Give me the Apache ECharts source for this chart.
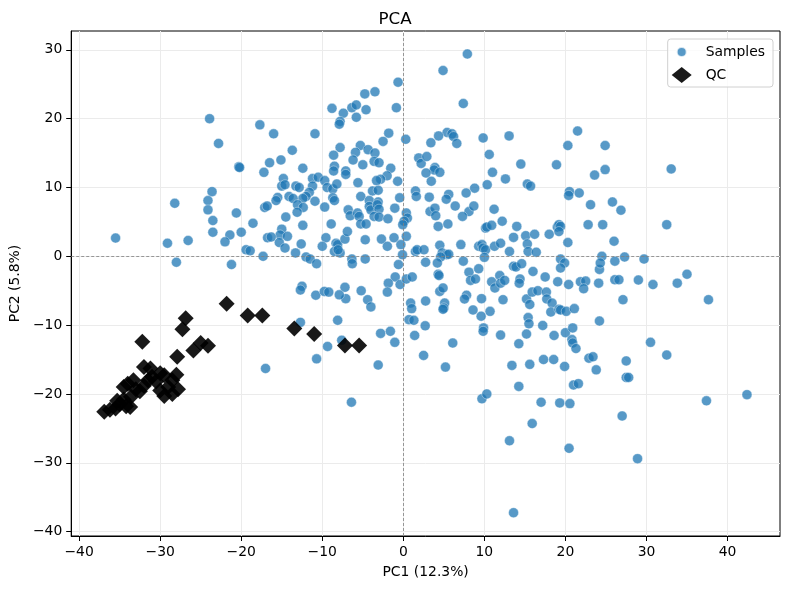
<!DOCTYPE html>
<html>
<head>
<meta charset="utf-8">
<script src="https://cdn.jsdelivr.net/npm/echarts@6/dist/echarts.min.js"></script>
<style>
html,body{margin:0;padding:0;background:#fff;}
#chart{width:790px;height:590px;}
</style>
</head>
<body>
<div id="chart"></div>
<script>
// ---- data ----
const xTicks = [-40, -30, -20, -10, 0, 10, 20, 30, 40];
const yTicks = [-40, -30, -20, -10, 0, 10, 20, 30];

const samplePoints = [
[-23.9,20.0],[-22.8,16.4],[-20.3,13.0],[-20.2,12.9],[-23.6,9.4],[-24.1,8.1],[-28.2,7.7],
[-0.65,25.3],[-3.5,23.9],[-4.75,23.6],[-8.8,21.5],[-6.35,21.6],[-5.8,22.0],[-7.4,20.8],[-4.6,21.3],[-5.8,20.2],[-0.86,21.6],[-7.8,19.6],[-7.9,19.2],[-17.7,19.1],[-16.0,17.8],[-10.9,17.8],[-1.8,17.9],[-2.5,16.7],[0.3,17.0],[-7.8,15.8],[-5.3,16.1],[-5.9,15.1],[-4.35,15.5],[-3.5,15.0],[-13.7,15.4],[-8.6,14.7],[-16.5,13.6],[-15.1,14.0],[-17.2,12.2],[-12.4,12.8],[-6.2,14.0],[-5.0,13.3],[-3.6,13.8],[-3.0,13.6],[-8.5,13.1],[-8.6,12.4],[-7.1,12.4],[-7.1,11.9],[-1.55,12.8],[-2.0,11.7],[-2.8,11.2],[-3.3,11.0],[-5.6,10.7],[-0.7,10.9],[-14.8,11.3],[-15.0,10.2],[-14.6,10.4],[-11.2,11.3],[-10.5,11.5],[-9.7,11.0],[-13.25,10.2],[-12.85,10.0],[-11.2,10.2],[-9.4,10.0],[-8.7,9.8],[-8.2,10.5],[-3.8,9.5],[-3.1,9.6],[1.5,9.5],[1.6,8.7],[1.9,14.3],[2.2,13.5],[-11.6,9.3],[-12.0,8.7],[-12.4,8.4],[-14.1,8.7],[-13.6,8.4],[-15.5,8.55],[-15.7,8.1],[-5.25,8.7],[-0.45,8.5],[-4.2,8.1],[-3.1,7.9],[-8.7,8.5],[-8.5,8.1],[-10.9,8.0],
[7.9,29.4],[4.9,27.0],[7.4,22.2],[21.5,18.2],[20.3,16.1],[24.9,16.1],[5.4,18.0],[6.0,17.8],[6.2,17.4],[4.35,17.5],[3.4,16.5],[6.6,16.4],[9.85,17.2],[13.05,17.5],[10.6,14.8],[2.9,14.5],[3.9,12.9],[3.8,12.55],[4.5,12.2],[2.8,12.1],[3.45,10.9],[11.0,12.2],[14.5,13.4],[12.6,11.25],[18.9,13.3],[10.35,10.4],[15.3,10.5],[15.7,10.2],[8.8,9.9],[7.75,9.2],[5.6,9.0],[5.3,8.3],[3.2,8.6],[23.6,11.8],[24.9,12.6],[20.5,9.4],[20.4,8.85],[21.7,9.2],
[33.05,12.7],[25.8,7.9],
[-35.5,2.65],[-24.1,6.75],[-20.6,6.3],[-23.5,5.2],[-23.5,3.5],[-29.1,1.9],[-26.55,2.3],[-21.4,3.1],[-22.0,2.1],[-20.0,3.5],[-19.4,0.95],[-28.0,-0.87],[-21.2,-1.2],
[-17.1,7.1],[-16.8,7.3],[-13.05,7.5],[-12.35,7.1],[-9.7,7.15],[-6.8,6.75],[-6.55,5.9],[-5.65,6.3],[-5.45,5.8],[-5.25,4.7],[-4.6,4.7],[-4.2,7.25],[-4.0,6.75],[-3.2,7.5],[-3.0,6.85],[-3.6,5.8],[-3.0,5.7],[-1.9,5.45],[-1.05,7.0],[0.37,6.3],[0.5,5.55],[0.1,5.1],[-0.07,4.6],[-18.55,4.8],[-14.5,5.7],[-13.1,6.4],[-12.4,4.5],[-8.9,4.7],[-15.0,3.95],[-15.2,3.1],[-15.3,2.0],[-14.3,2.9],[-16.75,2.7],[-16.3,2.8],[-18.9,0.8],[-17.3,0.0],[-14.6,1.2],[-13.3,0.5],[-12.6,1.8],[-12.0,-0.1],[-11.5,-0.4],[-10.7,-1.07],[-9.55,2.7],[-10.0,1.45],[-8.3,1.9],[-8.1,1.7],[-8.5,0.7],[-7.8,0.5],[-8.05,0.95],[-7.2,2.5],[-6.9,3.6],[-6.35,-0.4],[-6.3,-1.07],[-4.7,2.4],[-4.7,-0.4],[-2.7,2.5],[-1.97,1.45],[-1.15,2.7],[0.37,2.9],[-0.3,1.7],[-0.1,0.23],[-0.6,-1.2],[1.5,0.7],[1.7,0.95],[-1.0,-3.0],[-1.85,-3.9],[-0.4,-4.1],[0.37,-3.3],[1.1,-3.0],[-1.97,-5.2],[-5.2,-5.0],[-4.4,-6.3],[-4.0,-7.35],[-7.2,-4.5],[-7.1,-6.15],[-7.9,-5.6],[-12.5,-4.35],[-12.7,-4.9],[-10.8,-5.65],[-9.75,-5.1],[-9.2,-5.2],[0.9,-6.8],[1.03,-7.6],[0.7,-9.2],[1.3,-9.3],[-12.7,-9.6],[-8.1,-9.3],[-7.6,-12.2],[-9.35,-13.1],[-10.7,-14.9],[-2.8,-11.2],[-1.6,-10.9],[-1.05,-12.5],[1.4,-11.5],[-3.1,-15.8],[-17.0,-16.3],
[3.3,6.5],[3.9,7.0],[4.0,5.9],[6.4,7.3],[8.1,6.5],[8.7,7.3],[7.3,5.8],[11.2,6.85],[4.3,4.35],[5.5,4.7],[10.15,4.1],[10.3,4.25],[10.9,4.5],[12.2,5.1],[14.0,4.35],[13.6,2.75],[15.1,3.0],[16.2,3.2],[15.3,1.8],[15.4,0.7],[16.4,0.6],[18.0,3.2],[19.0,4.25],[19.2,4.6],[19.4,4.35],[19.2,3.6],[20.3,2.0],[22.8,4.6],[24.6,4.6],[2.55,0.95],[2.75,-0.87],[4.5,1.6],[4.8,0.5],[5.35,0.23],[5.6,0.3],[4.6,-0.1],[4.2,-0.97],[7.1,1.7],[7.4,-0.7],[9.3,1.45],[9.7,1.7],[9.85,1.2],[10.15,0.95],[10.0,-0.15],[11.25,1.45],[12.0,1.9],[13.1,0.7],[4.3,-2.6],[4.4,-2.8],[8.1,-2.3],[9.3,-1.8],[8.3,-3.5],[8.9,-3.3],[10.9,-3.7],[11.3,-4.6],[11.9,-2.8],[12.0,-3.9],[12.5,-3.5],[13.6,-1.45],[13.9,-1.55],[14.6,-1.07],[14.4,-3.3],[14.3,-3.9],[16.0,-2.2],[17.5,-3.0],[19.05,-3.7],[20.4,-4.1],[19.4,-0.4],[19.9,-0.97],[19.4,-1.7],[21.85,-3.7],[22.5,-3.6],[22.25,-4.7],[24.1,-3.9],[24.2,-1.9],[24.5,0.0],[24.3,-0.97],[4.5,-5.1],[4.9,-4.6],[2.75,-6.5],[5.1,-6.8],[5.0,-7.5],[4.9,-7.7],[7.8,-5.65],[7.55,-6.2],[9.65,-6.15],[8.6,-7.8],[9.6,-8.7],[10.7,-8.0],[12.3,-6.3],[15.2,-6.2],[15.6,-7.0],[15.9,-5.2],[16.6,-5.0],[17.65,-5.2],[17.7,-6.2],[18.35,-6.8],[18.2,-8.1],[19.2,-7.7],[19.4,-7.8],[20.1,-8.0],[21.1,-7.6],[15.4,-8.9],[15.5,-9.8],[17.2,-10.05],[15.2,-11.3],[14.25,-12.7],[12.0,-11.45],[9.9,-10.4],[9.85,-10.9],[6.1,-12.6],[2.7,-10.1],[18.6,-11.5],[20.0,-11.1],[20.9,-10.4],[20.8,-12.1],[20.9,-12.6],[21.3,-13.4],[24.2,-9.4],[2.5,-14.4],[5.2,-16.1],[13.4,-15.85],[15.6,-15.7],[17.3,-15.0],[18.55,-15.0],[19.9,-16.0],[22.9,-14.8],[23.4,-14.6],[23.8,-16.5],[23.1,7.5],
[26.85,6.7],[32.5,4.6],[26.0,2.2],[26.1,-0.7],[27.3,-0.1],[29.7,-0.4],[26.1,-3.4],[26.6,-3.4],[29.0,-3.45],[30.8,-4.1],[33.8,-3.9],[35.0,-2.6],[27.1,-6.3],[37.65,-6.3],[30.5,-12.5],[32.5,-14.35],[27.5,-15.2],
[-6.4,-21.2],
[9.7,-20.7],[10.3,-20.0],[14.25,-18.9],[17.0,-21.2],[19.3,-21.3],[20.55,-21.4],[21.0,-18.7],[21.6,-18.5],[15.9,-24.3],[13.1,-26.8],[20.45,-27.9],[13.6,-37.25],
[27.5,-17.6],[27.8,-17.6],[27.0,-23.2],[28.9,-29.4],[37.4,-21.0],[42.4,-20.1]
];

const qcPoints = [
[-21.8,-6.9],[-26.85,-9.0],[-27.25,-10.6],[-32.2,-12.4],[-25.0,-12.6],[-24.1,-13.0],[-25.9,-13.7],[-27.9,-14.6],[-19.2,-8.6],[-17.4,-8.6],[-13.45,-10.5],[-11.0,-11.3],[-7.2,-12.95],[-5.45,-12.95],[-32.0,-16.1],
[-36.9,-22.6],[-36.2,-22.3],[-35.5,-22.1],[-35.0,-21.5],[-34.5,-20.8],[-34.2,-21.8],[-33.7,-21.9],[-34.5,-19.0],[-34.0,-18.5],[-33.3,-18.0],[-33.0,-19.3],[-32.5,-19.6],[-32.0,-18.8],[-31.5,-18.0],[-31.0,-17.5],[-30.5,-18.2],[-30.0,-17.0],[-29.5,-17.3],[-30.0,-19.5],[-29.5,-20.3],[-29.0,-19.0],[-28.5,-18.0],[-28.0,-17.2],[-27.8,-19.3],[-28.5,-20.0],[-31.2,-16.3],[-33.6,-20.4],[-35.3,-21.0]
];

const minus = v => String(v).replace('-', '\u2212');
const FONT = 'DejaVu Sans';
// legend icon: 10px circle centred in a 16px box (moveTo corners fix the box)
const circleIcon = 'path://M0,0M16,16M3,8A5,5,0,1,1,13,8A5,5,0,1,1,3,8Z';

const chart = echarts.init(document.getElementById('chart'), null, {renderer: 'canvas'});
chart.setOption({
  animation: false,
  backgroundColor: '#fff',
  textStyle: {fontFamily: FONT},
  title: {
    text: 'PCA', left: 'center', top: 6,
    textStyle: {fontFamily: FONT, fontSize: 16.7, fontWeight: 'normal', color: '#000'}
  },
  legend: {
    orient: 'vertical', right: 17, top: 39,
    itemWidth: 20, itemHeight: 16, itemGap: 6,
    padding: [4, 8, 4, 4],
    borderColor: '#d0d0d0', borderWidth: 1, borderRadius: 3,
    backgroundColor: 'rgba(255,255,255,0.8)',
    textStyle: {fontFamily: FONT, fontSize: 13.9, color: '#000', padding: [0, 0, 0, 9]},
    data: [{name: 'Samples', icon: circleIcon}, {name: 'QC', icon: 'diamond'}]
  },
  grid: {left: 70, right: 10, top: 31, bottom: 54, show: true, borderColor: '#000', borderWidth: 1},
  xAxis: {
    type: 'value', min: -40.975, max: 46.475,
    name: 'PC1 (12.3%)', nameLocation: 'middle', nameGap: 29,
    nameTextStyle: {fontFamily: FONT, fontSize: 13.9, color: '#000'},
    axisLine: {onZero: false, lineStyle: {color: '#000', width: 1}},
    axisTick: {customValues: xTicks, length: 5, lineStyle: {color: '#000'}},
    axisLabel: {customValues: xTicks, formatter: minus, margin: 9, fontFamily: FONT, fontSize: 13.9, color: '#000'},
    splitLine: {show: true, lineStyle: {color: '#ebebeb', width: 1}}
  },
  yAxis: {
    type: 'value', min: -40.64, max: 32.74,
    name: 'PC2 (5.8%)', nameLocation: 'middle', nameGap: 46, nameRotate: 90,
    nameTextStyle: {fontFamily: FONT, fontSize: 13.9, color: '#000'},
    axisLine: {onZero: false, lineStyle: {color: '#000', width: 1}},
    axisTick: {customValues: yTicks, length: 5, lineStyle: {color: '#000'}},
    axisLabel: {customValues: yTicks, formatter: minus, margin: 9, fontFamily: FONT, fontSize: 13.9, color: '#000'},
    splitLine: {show: true, lineStyle: {color: '#ebebeb', width: 1}}
  },
  series: [
    {
      name: 'Samples', type: 'scatter', symbol: 'circle', symbolSize: 10,
      data: samplePoints,
      itemStyle: {color: '#1f77b4', opacity: 0.75, borderColor: '#ffffff', borderWidth: 0.5},
      markLine: {
        silent: true, symbol: 'none', label: {show: false},
        lineStyle: {type: [3, 2], color: '#808080', width: 0.8, opacity: 1},
        data: [{xAxis: 0}, {yAxis: 0}]
      },
      z: 2
    },
    {
      name: 'QC', type: 'scatter', symbol: 'diamond', symbolSize: 16,
      data: qcPoints,
      itemStyle: {color: '#000000', opacity: 0.9},
      z: 3
    }
  ]
});
</script>
</body>
</html>
